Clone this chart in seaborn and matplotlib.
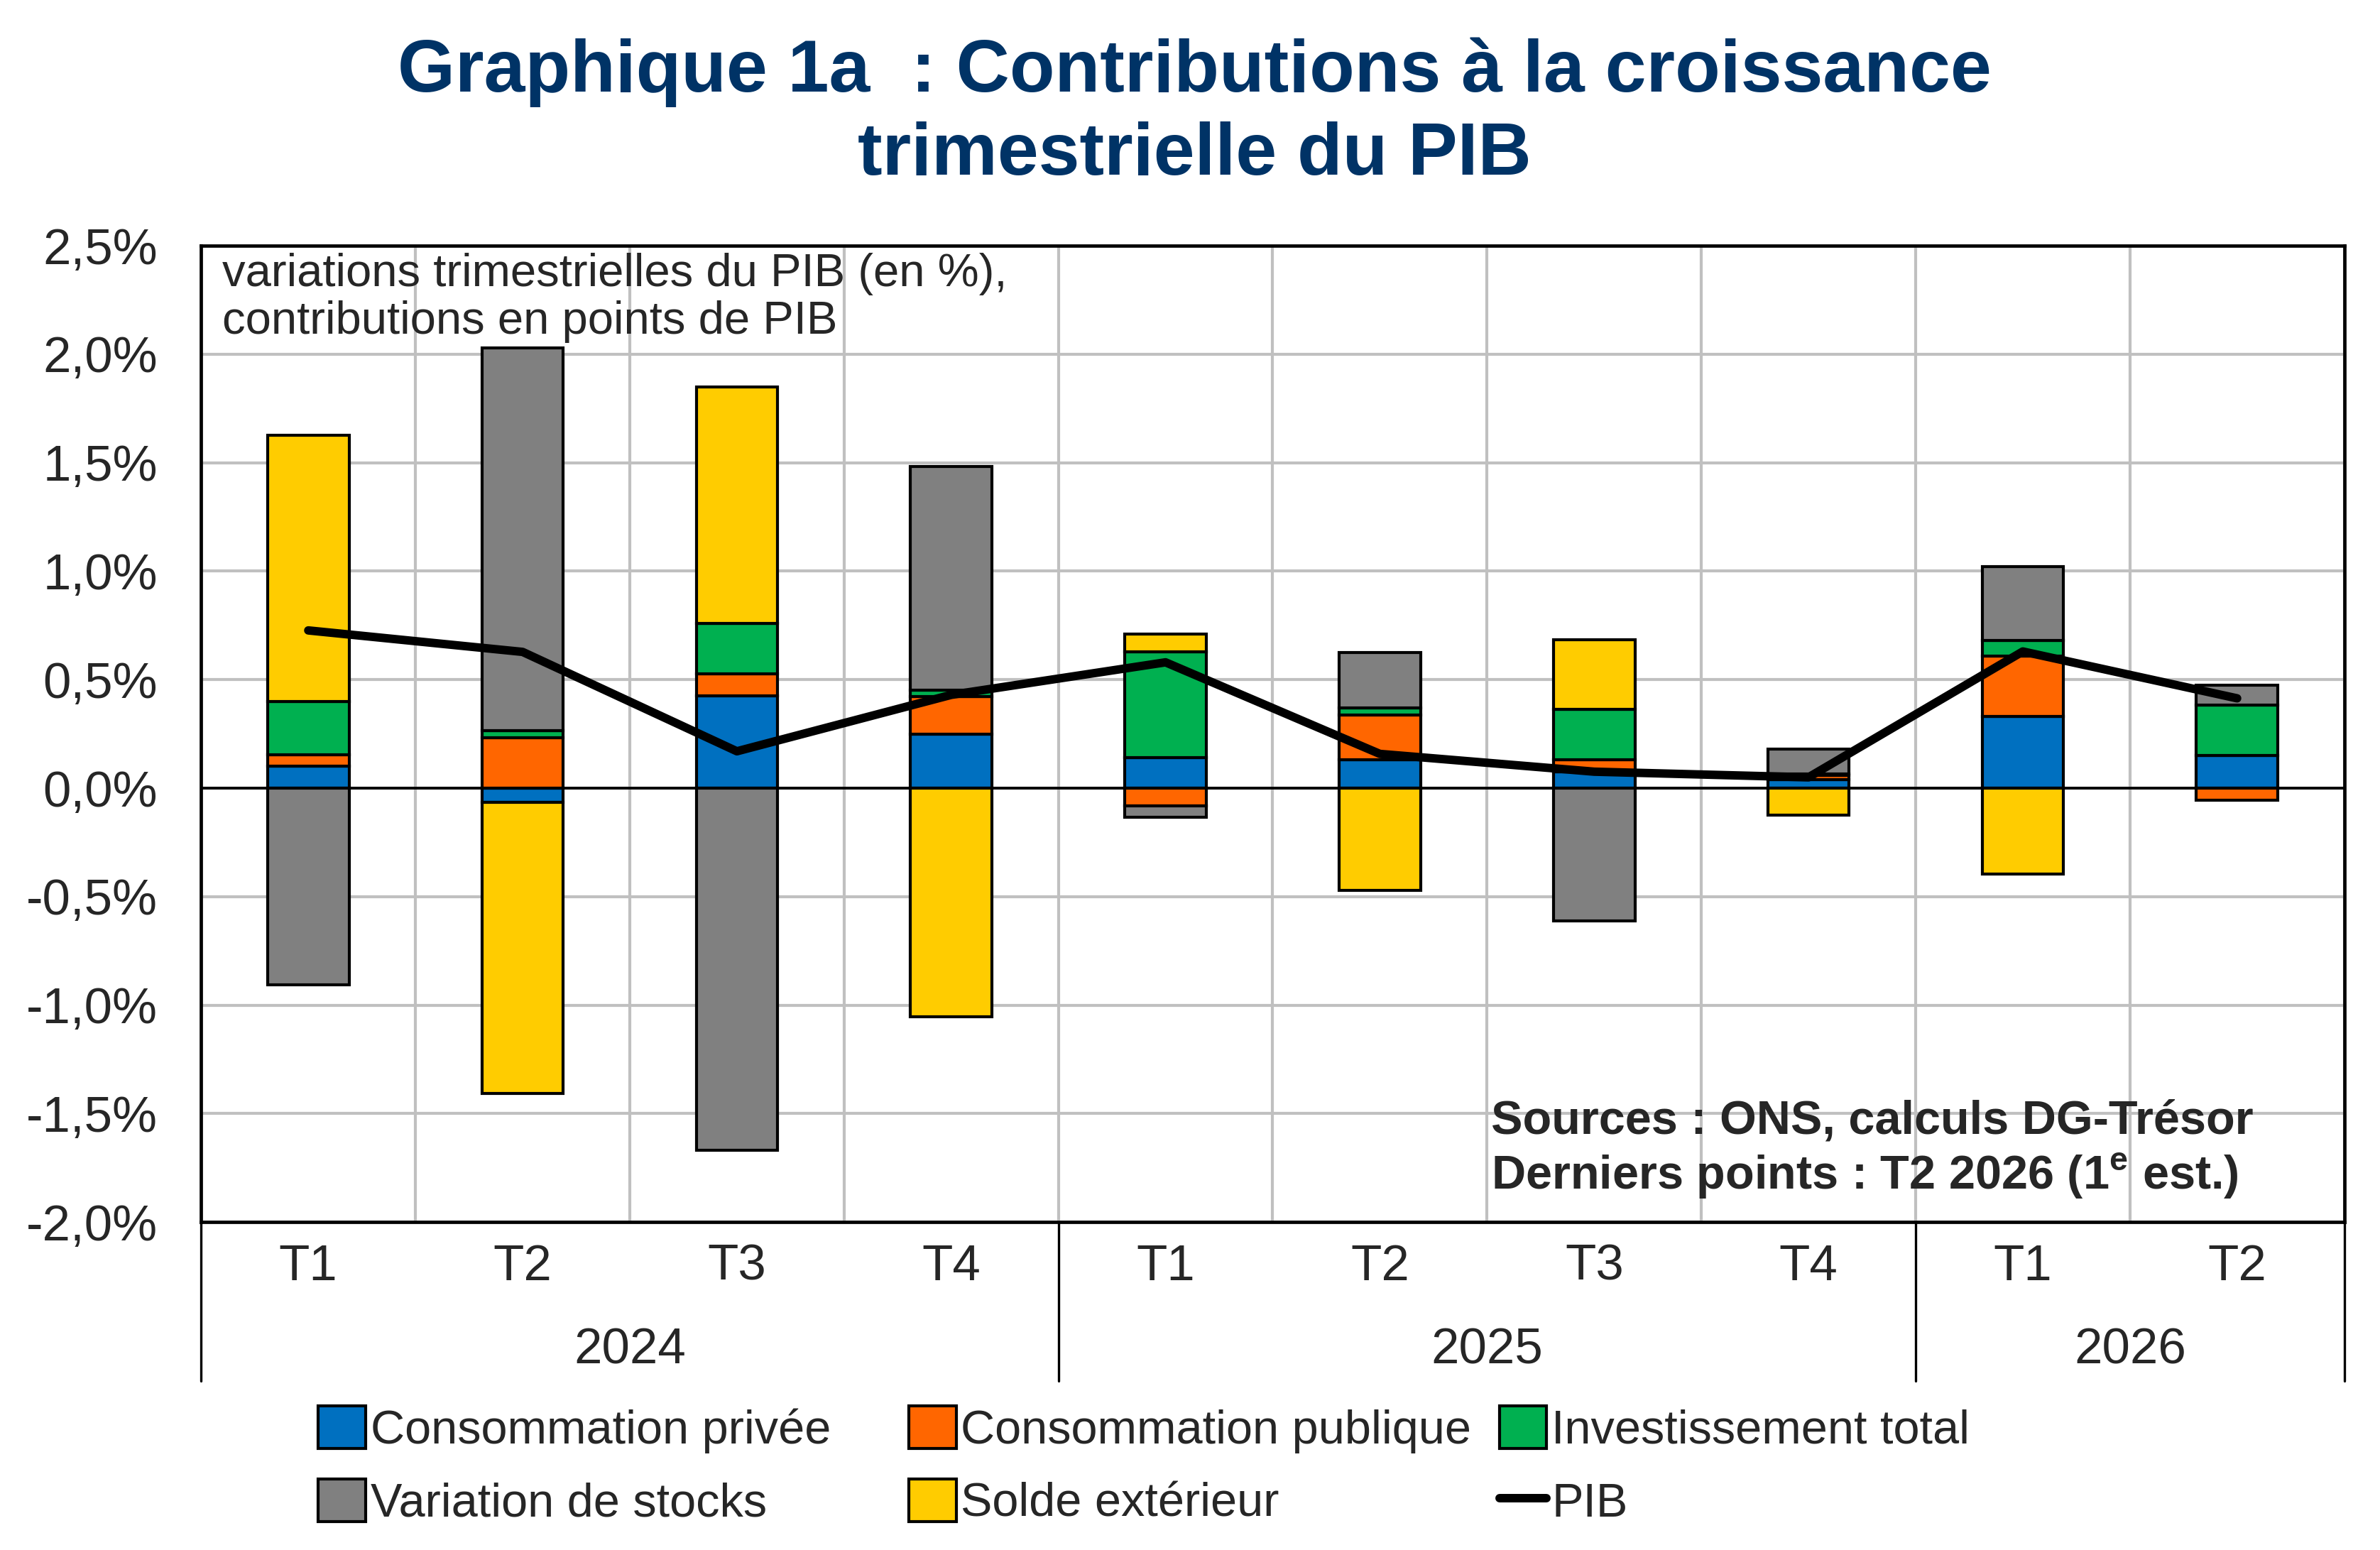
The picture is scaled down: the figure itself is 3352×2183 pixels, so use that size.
import numpy as np
import pandas as pd
import seaborn as sns
import matplotlib.pyplot as plt
import matplotlib.transforms as mtransforms
from matplotlib.patches import Patch
from matplotlib.lines import Line2D
from matplotlib.ticker import FuncFormatter, MultipleLocator

# quarters / years
quarters = ['T1', 'T2', 'T3', 'T4', 'T1', 'T2', 'T3', 'T4', 'T1', 'T2']
years = ['2024', '2025', '2026']
year_len = [4, 4, 2]

# contributions, points de PIB
conso_privee = [0.10, -0.065, 0.425, 0.25, 0.14, 0.13, 0.076, 0.04, 0.33, 0.152]
conso_publique = [0.055, 0.232, 0.103, 0.172, -0.08, 0.207, 0.054, 0.02, 0.28, -0.057]
investissement = [0.245, 0.032, 0.232, 0.03, 0.488, 0.033, 0.234, 0.005, 0.07, 0.232]
stocks = [-0.906, 1.766, -1.669, 1.032, -0.055, 0.255, -0.613, 0.115, 0.34, 0.091]
solde_ext = [1.225, -1.343, 1.09, -1.053, 0.082, -0.47, 0.319, -0.125, -0.396, 0.0]
pib = [0.727, 0.628, 0.17, 0.43, 0.58, 0.158, 0.076, 0.05, 0.63, 0.414]

series = [
    ('Consommation privée', conso_privee, '#0070C0'),
    ('Consommation publique', conso_publique, '#FF6600'),
    ('Investissement total', investissement, '#00B050'),
    ('Variation de stocks', stocks, '#808080'),
    ('Solde extérieur', solde_ext, '#FFCC00'),
]

sns.set_style('white')
plt.rcParams['font.family'] = ['Liberation Sans', 'DejaVu Sans']
plt.rcParams['mathtext.fontset'] = 'custom'
plt.rcParams['mathtext.rm'] = 'Liberation Sans'
plt.rcParams['mathtext.bf'] = 'Liberation Sans:bold'

fig = plt.figure(figsize=(16.76, 10.915), dpi=200)
ax = fig.add_axes([0.0845, 0.2115, 0.9005, 0.630])

x = np.arange(len(quarters))
pos = np.zeros(len(x))
neg = np.zeros(len(x))
for name, vals, col in series:
    v = np.array(vals)
    base = np.where(v >= 0, pos, neg)
    m = v != 0
    ax.bar(x[m], v[m], bottom=base[m], width=0.38, color=col,
           edgecolor='black', linewidth=1.5, zorder=3)
    pos = pos + np.where(v > 0, v, 0)
    neg = neg + np.where(v < 0, v, 0)

ax.axhline(0, color='black', lw=1.4, zorder=3.5)

df = pd.DataFrame({'x': x, 'pib': pib})
sns.lineplot(data=df, x='x', y='pib', ax=ax, color='black', lw=4.3,
             zorder=5, solid_joinstyle='round', solid_capstyle='round')

ax.set_xlim(-0.5, len(x) - 0.5)
ax.set_ylim(-2.0, 2.5)
ax.yaxis.set_major_locator(MultipleLocator(0.5))
ax.yaxis.set_major_formatter(FuncFormatter(lambda v, p: f'{v:.1f}%'.replace('.', ',')))
ax.set_xticks(x)
ax.set_xticklabels(quarters)
ax.set_xticks(np.arange(len(x) + 1) - 0.5, minor=True)
ax.grid(True, which='minor', axis='x', color='#C0C0C0', lw=1.5, zorder=0)
ax.grid(True, which='major', axis='y', color='#C0C0C0', lw=1.5, zorder=0)
ax.grid(False, which='major', axis='x')
ax.tick_params(axis='both', which='both', length=0, labelsize=25.5)
ax.tick_params(axis='y', pad=22)
ax.tick_params(axis='x', pad=11)
ax.set_xlabel('')
ax.set_ylabel('')
for s in ax.spines.values():
    s.set_visible(True)
    s.set_color('black')
    s.set_linewidth(1.7)

# year level of category axis
trans = mtransforms.blended_transform_factory(ax.transData, ax.transAxes)
start = -0.5
ax.plot([start, start], [0, -0.163], transform=trans, color='black', lw=1.2, clip_on=False)
for yr, n in zip(years, year_len):
    ax.text(start + n / 2, -0.1316, yr, transform=trans, ha='center', va='center', fontsize=25.5)
    start += n
    ax.plot([start, start], [0, -0.163], transform=trans, color='black', lw=1.2, clip_on=False)

ax.text(0.0099, 0.993, 'variations trimestrielles du PIB (en %),\ncontributions en points de PIB',
        transform=ax.transAxes, ha='left', va='top', fontsize=23.5, linespacing=1.15, zorder=6)
ax.text(0.602, 0.103, 'Sources : ONS, calculs DG-Trésor', transform=ax.transAxes,
        ha='left', va='center', fontsize=24, fontweight='bold', zorder=6)
ax.text(0.602, 0.047, 'Derniers points : T2 2026 (1$^{\\mathbf{e}}$ est.)', transform=ax.transAxes,
        ha='left', va='center', fontsize=24, fontweight='bold', zorder=6)

fig.text(0.502, 0.976, 'Graphique 1a  : Contributions à la croissance\ntrimestrielle du PIB',
         ha='center', va='top', fontsize=37.5, fontweight='bold', color='#003366', linespacing=1.27)

handles = {name: Patch(facecolor=col, edgecolor='black', linewidth=1.5) for name, _, col in series}
handles['PIB'] = Line2D([0], [0], color='black', lw=4.3, solid_capstyle='round')
columns = [(['Consommation privée', 'Variation de stocks'], 0.1338),
           (['Consommation publique', 'Solde extérieur'], 0.3819),
           (['Investissement total', 'PIB'], 0.6300)]
for labels, x0 in columns:
    leg = fig.legend([handles[k] for k in labels], labels, loc='upper left',
                     bbox_to_anchor=(x0, 0.093), ncol=1, frameon=False, fontsize=24,
                     handlelength=1.0, handleheight=1.0, handletextpad=0.1,
                     labelspacing=0.55, borderaxespad=0, borderpad=0)

fig.savefig('out.png', dpi=200)
